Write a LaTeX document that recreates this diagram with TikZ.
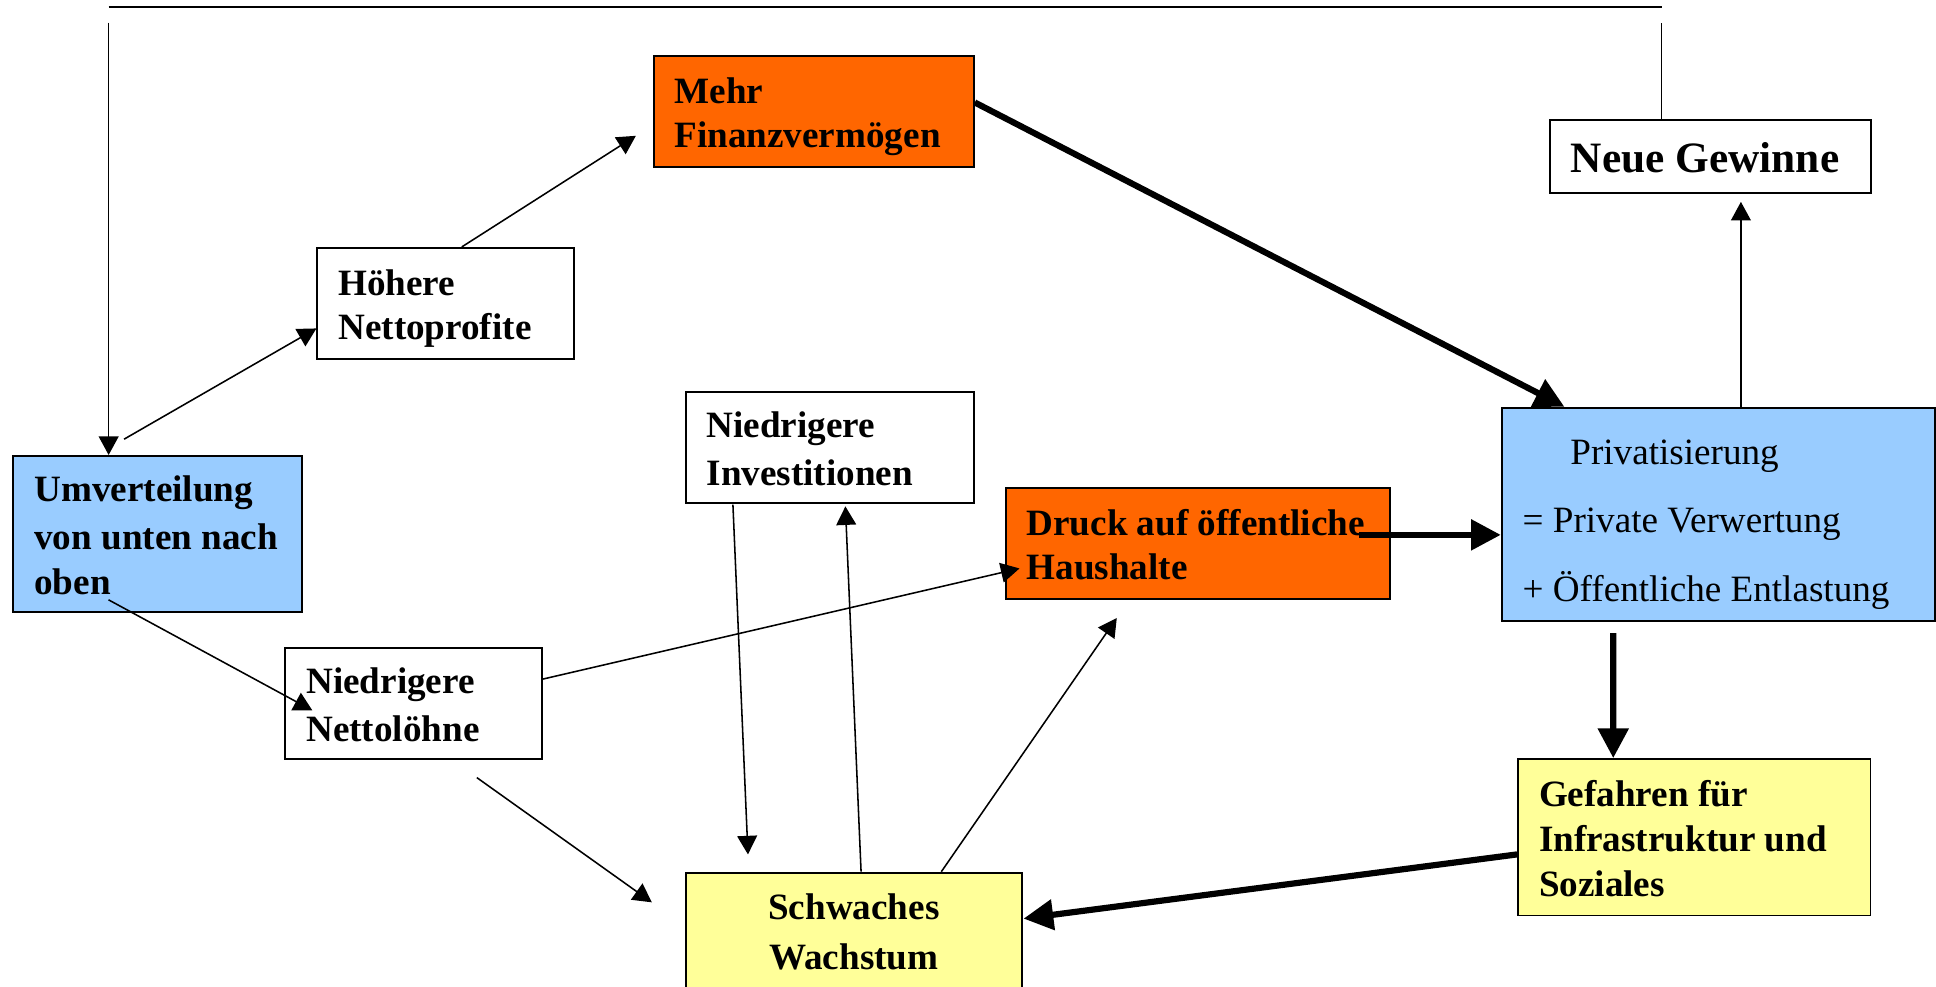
\documentclass[tikz,border=0pt]{standalone}
\usepackage{fontspec}
\setmainfont{Liberation Serif}
\usetikzlibrary{arrows.meta,calc}

% drawing unit
\newdimen\dpx \dpx=0.399pt

\definecolor{boxorange}{HTML}{FF6600}
\definecolor{boxblue}{HTML}{99CCFF}
\definecolor{boxyellow}{HTML}{FFFF99}

% line struts: every text line gets the same height and depth
\newcommand\lnstrut{\rule[-2.6pt]{0pt}{14.4pt}}
\newcommand\privstrut{\rule[-5.1pt]{0pt}{22.1pt}}
\newcommand\bigstrut{\rule[-3.2pt]{0pt}{16.7pt}}

\tikzset{
  box/.style={draw=black, line width=0.6pt, anchor=north west,
    inner xsep=17\dpx, inner ysep=0pt, align=flush left,
    font=\bfseries\fontsize{12}{14.4}\selectfont},
  link/.style={line width=0.5pt, -{Triangle[length=6pt,width=6.4pt]}},
  plainlink/.style={line width=0.5pt},
  boldlink/.style={line width=2pt, -{Triangle[length=9.6pt,width=9.6pt]}},
}

\begin{document}
\begin{tikzpicture}[x=\dpx, y=-\dpx]
\useasboundingbox (0,0) rectangle (1568,799);
\clip (0,0) rectangle (1568,799);

% boxes
\node[box, fill=boxorange, text width=225.4\dpx, minimum height=89.9\dpx]
  (mehr) at (528.6,44.6) {\lnstrut Mehr\\\lnstrut Finanzverm\"ogen};
\node[box, fill=white, text width=226\dpx, minimum height=59.4\dpx,
  font=\bfseries\fontsize{14}{16.7}\selectfont]
  (neue) at (1254.6,96.4) {\bigstrut Neue Gewinne};
\node[box, fill=white, text width=174\dpx, minimum height=90\dpx]
  (hoeh) at (256.3,200) {\lnstrut H\"ohere\\\lnstrut Nettoprofite};
\node[box, fill=boxblue, text width=199.6\dpx, minimum height=126.4\dpx]
  (umv) at (10.1,368.5) {\lnstrut Umverteilung\\\lnstrut von unten nach\\\lnstrut oben};
\node[box, fill=white, text width=199.5\dpx, minimum height=89.6\dpx]
  (inv) at (554.5,317) {\lnstrut Niedrigere\\\lnstrut Investitionen};
\node[box, fill=boxorange, text width=277.3\dpx, minimum height=89.8\dpx]
  (druck) at (813.7,394.5) {\lnstrut Druck auf \"offentliche\\\lnstrut Haushalte};
\node[box, fill=boxblue, text width=316.8\dpx, minimum height=172.8\dpx,
  font=\mdseries\fontsize{12}{22.1}\selectfont]
  (priv) at (1215.5,329.4)
  {\privstrut\hspace*{38.6\dpx}Privatisierung\\
   \privstrut = Private Verwertung\\
   \privstrut + \"Offentliche Entlastung};
\node[box, fill=white, text width=173.9\dpx, minimum height=89.7\dpx]
  (lohn) at (230.3,524.3) {\lnstrut Niedrigere\\\lnstrut Nettol\"ohne};
\node[box, fill=boxyellow, text width=238.1\dpx, minimum height=124\dpx,
  align=flush center, font=\bfseries\fontsize{12}{16}\selectfont]
  (schw) at (554.8,706)
  {\rule[-3.4pt]{0pt}{15.97pt}Schwaches\\Wachstum\rule[-15.5pt]{0pt}{0pt}};
\node[box, fill=boxyellow, text width=251.5\dpx, minimum height=126.7\dpx]
  (gef) at (1228.7,614)
  {\lnstrut Gefahren f\"ur\\\lnstrut Infrastruktur und\\\lnstrut Soziales};

% feedback loop along the top edge
\coordinate (loopR) at (1345.5,18.4);
\coordinate (loopL) at (88,18.4);
\coordinate (barL) at (88,5.5);
\coordinate (barR) at (1346,5.5);
\draw[plainlink] (neue.north -| loopR) -- (loopR);
\draw[plainlink] (barL) -- (barR);
\draw[link] (loopL) -- (loopL |- umv.north);

% connectors
\draw[link] ($(umv.north west)+(90.4,-12.8)$) -- ($(hoeh.north west)+(0,66)$);
\draw[link] ($(hoeh.north west)+(117.7,0)$) -- ($(mehr.north west)+(-13.6,65.4)$);
\draw[boldlink] ($(mehr.north east)+(0,38.4)$) -- ($(priv.north west)+(51.5,0)$);
\draw[boldlink] ($(druck.north west)+(286.8,38.7)$) -- ($(priv.north west)+(0,103.8)$);
\draw[link] ($(priv.north west)+(194.5,0)$) -- ($(neue.south west)+(155.4,6.2)$);
\draw[boldlink] ($(priv.south west)+(91.1,9)$) -- ($(gef.north west)+(77.9,0)$);
\draw[boldlink] ($(gef.north west)+(0,78)$) -- ($(schw.north east)+(0.6,38)$);
\draw[link] ($(umv.north west)+(77.8,117.3)$) -- ($(lohn.north west)+(22.7,51.1)$);
\draw[link] ($(lohn.north east)+(0,25.7)$) -- ($(druck.north west)+(12,65.9)$);
\draw[link] ($(lohn.south west)+(155.9,14.3)$) -- ($(schw.north west)+(-26.9,24.8)$);
\draw[link] ($(inv.south west)+(39.1,0.6)$) -- ($(schw.north west)+(51,-14)$);
\draw[link] ($(schw.north west)+(142.6,0)$) -- ($(inv.south west)+(130.2,2)$);
\draw[link] ($(schw.north west)+(207.6,0)$) -- ($(druck.south west)+(90.8,14.7)$);
\end{tikzpicture}
\end{document}
